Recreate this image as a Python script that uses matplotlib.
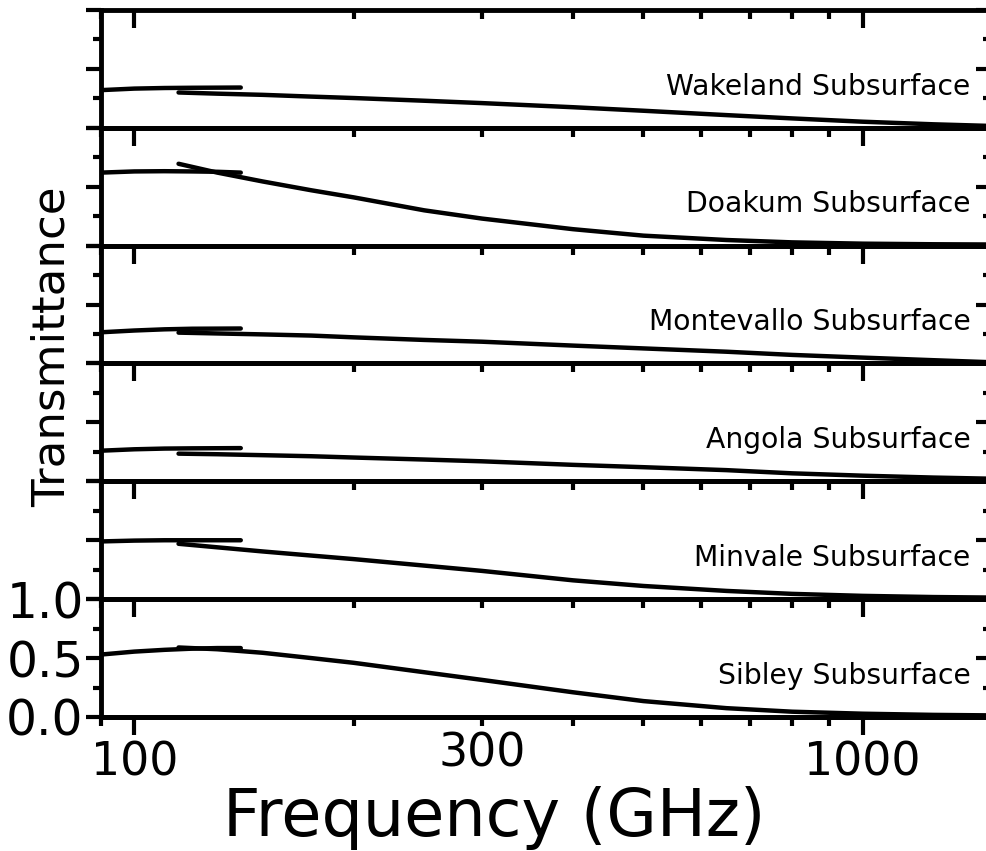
import numpy as np
import matplotlib
matplotlib.use("Agg")
import matplotlib.pyplot as plt
from matplotlib.ticker import FixedLocator, LogLocator, FuncFormatter, NullFormatter

plt.rcParams['font.family'] = ['DejaVu Sans']

# sample names, top to bottom
names = ["Wakeland Subsurface", "Doakum Subsurface", "Montevallo Subsurface",
         "Angola Subsurface", "Minvale Subsurface", "Sibley Subsurface"]

# low-frequency measurement (GHz)
f_low = [90, 100, 110, 120, 130, 140]
# high-frequency measurement (GHz)
f_high = [115, 130, 150, 175, 200, 250, 300, 400, 500, 650, 800, 1000, 1250, 1480]

t_low = [
    [0.32, 0.333, 0.338, 0.34, 0.341, 0.342],
    [0.62, 0.63, 0.632, 0.63, 0.627, 0.62],
    [0.265, 0.28, 0.29, 0.295, 0.296, 0.297],
    [0.26, 0.272, 0.278, 0.28, 0.281, 0.282],
    [0.49, 0.497, 0.5, 0.5, 0.5, 0.5],
    [0.53, 0.555, 0.57, 0.58, 0.585, 0.585],
]
t_high = [
    [0.30, 0.29, 0.28, 0.265, 0.253, 0.23, 0.21, 0.175, 0.145, 0.108, 0.08, 0.052, 0.03, 0.017],
    [0.695, 0.62, 0.545, 0.47, 0.41, 0.30, 0.23, 0.14, 0.085, 0.048, 0.028, 0.017, 0.012, 0.01],
    [0.262, 0.255, 0.247, 0.237, 0.222, 0.20, 0.185, 0.152, 0.128, 0.10, 0.073, 0.05, 0.028, 0.012],
    [0.235, 0.23, 0.222, 0.213, 0.202, 0.185, 0.17, 0.14, 0.12, 0.095, 0.068, 0.048, 0.032, 0.023],
    [0.47, 0.44, 0.405, 0.37, 0.34, 0.285, 0.24, 0.16, 0.112, 0.07, 0.045, 0.028, 0.018, 0.014],
    [0.59, 0.575, 0.545, 0.50, 0.46, 0.38, 0.315, 0.21, 0.135, 0.075, 0.045, 0.028, 0.018, 0.014],
]

fig = plt.figure(figsize=(9.86, 8.51), dpi=100)

left, right = 101 / 986, 991 / 986
bottom, top = 1 - 717 / 851, 1 - 10 / 851
h = (top - bottom) / len(names)

lw_spine = 3.5
for i, name in enumerate(names):
    ax = fig.add_axes([left, top - (i + 1) * h, right - left, h])
    ax.patch.set_visible(False)
    ax.plot(f_low, t_low[i], color='black', lw=3.2, solid_capstyle='round')
    ax.plot(f_high, t_high[i], color='black', lw=3.2, solid_capstyle='round')
    ax.set_xscale('log')
    ax.set_xlim(90, 1500)
    ax.set_ylim(0, 1)
    for s in ax.spines.values():
        s.set_linewidth(lw_spine)

    # x ticks: inward on top of every panel
    ax.xaxis.set_major_locator(FixedLocator([100, 1000]))
    ax.xaxis.set_minor_locator(LogLocator(base=10, subs=np.arange(2, 10)))
    ax.xaxis.set_major_formatter(NullFormatter())
    ax.xaxis.set_minor_formatter(NullFormatter())
    ax.tick_params(axis='x', which='both', top=True, bottom=False, direction='in',
                   width=3, labelbottom=False)
    ax.tick_params(axis='x', which='major', length=13)
    ax.tick_params(axis='x', which='minor', length=6.5)

    # y ticks: outward on the left
    ax.yaxis.set_major_locator(FixedLocator([0, 0.5, 1.0]))
    ax.yaxis.set_minor_locator(FixedLocator([0.25, 0.75]))
    ax.tick_params(axis='y', which='both', left=True, right=False, direction='out',
                   width=3, pad=2)
    ax.tick_params(axis='y', which='major', length=10.5)
    ax.tick_params(axis='y', which='minor', length=6)

    # y ticks: inward on the right
    sy = ax.secondary_yaxis('right')
    sy.yaxis.set_major_locator(FixedLocator([0, 0.5, 1.0]))
    sy.yaxis.set_minor_locator(FixedLocator([0.25, 0.75]))
    sy.tick_params(axis='y', which='both', direction='in', width=3, labelright=False)
    sy.tick_params(axis='y', which='major', length=11)
    sy.tick_params(axis='y', which='minor', length=6)
    sy.spines['right'].set_linewidth(lw_spine)

    if i == len(names) - 1:
        ax.yaxis.set_major_formatter(FuncFormatter(lambda v, p: f"{v:.1f}"))
        ax.tick_params(axis='y', labelsize=35)
        sx = ax.secondary_xaxis('bottom')
        sx.xaxis.set_major_locator(FixedLocator([100, 1000]))
        sx.xaxis.set_minor_locator(LogLocator(base=10, subs=np.arange(2, 10)))
        sx.xaxis.set_major_formatter(FuncFormatter(lambda v, p: f"{v:.0f}"))
        sx.xaxis.set_minor_formatter(
            FuncFormatter(lambda v, p: "300" if abs(v - 300) < 1 else ""))
        sx.tick_params(axis='x', which='both', direction='out', width=3,
                       labelsize=33, pad=4)
        sx.tick_params(axis='x', which='major', length=13)
        sx.tick_params(axis='x', which='minor', length=6.5)
        sx.spines['bottom'].set_linewidth(lw_spine)
    else:
        ax.yaxis.set_major_formatter(NullFormatter())

    ax.text(0.977, 0.35, name, transform=ax.transAxes, ha='right', va='center',
            fontsize=20.3)

fig.text(52 / 986, 1 - 347 / 851, "Transmittance", rotation=90, ha='center',
         va='center', fontsize=32.5)
fig.text(494 / 986, 1 - 818 / 851, "Frequency (GHz)", ha='center', va='center',
         fontsize=47)

fig.savefig("out.png", dpi=100)
